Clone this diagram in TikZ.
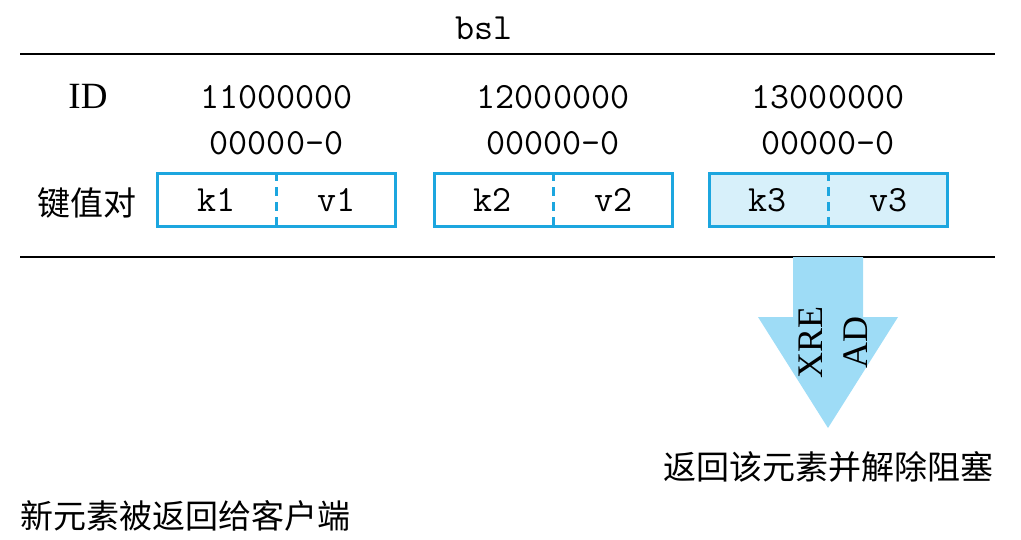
\documentclass[tikz,border=0pt]{standalone}
\usepackage{fontspec}
\setmainfont{Liberation Serif}
\newfontfamily\cjk{Noto Sans CJK SC}
\usetikzlibrary{positioning, calc}

\definecolor{boxblue}{HTML}{1CA6DF}
\definecolor{boxfill}{HTML}{D7F0FA}
\definecolor{arrowblue}{HTML}{9EDCF6}

\tikzset{
  monotext/.style={font=\fontsize{37}{40}\selectfont\ttfamily, inner sep=0pt},
  cjktext/.style={font=\fontsize{33}{36}\selectfont\cjk, inner sep=0pt},
  pairbox/.style={draw=boxblue, line width=3pt, minimum width=238pt, minimum height=53pt, inner sep=0pt},
  rule/.style={line width=2.5pt}
}

\begin{document}
\begin{tikzpicture}[x=1pt,y=-1pt]
\useasboundingbox (0,0) rectangle (1021,539);

\node[monotext] (title) at (484,28) {bsl};
\draw[rule] (20,54) -- (995,54);
\draw[rule] (20,257) -- (995,257);

\node[font=\fontsize{37}{40}\selectfont, inner sep=0pt] (idlabel) at (88,96) {ID};
\node[cjktext] (pairlabel) at (87,203) {键值对};

\foreach \i / \x / \c in {1/276.5/white, 2/553/white, 3/828/boxfill} {
\node[monotext] (id\i) at (\x,97) {1\i000000};
\node[monotext] (seq\i) at (\x,143) {00000-0};
\node[pairbox, fill=\c] (box\i) at (\x,200) {};
\draw[boxblue, line width=3pt, dash pattern=on 9pt off 6pt] (box\i.north) -- (box\i.south);
\node[monotext] (key\i) at ($(box\i.west)!0.25!(box\i.east)$) {k\i};
\node[monotext] (val\i) at ($(box\i.west)!0.75!(box\i.east)$) {v\i};
}

% XREAD arrow
\fill[arrowblue] (793,257) -- (863,257) -- (863,317) -- (898,317)
  -- (828,428) -- (758,317) -- (793,317) -- cycle;
\node[rotate=90, align=center, inner sep=0pt,
  font=\fontsize{36}{45}\selectfont] (xread) at (833,342) {XRE\\AD};

\node[cjktext] (unblock) at (828,467) {返回该元素并解除阻塞};
\node[cjktext, anchor=west] (client) at (20,516) {新元素被返回给客户端};
\end{tikzpicture}
\end{document}
